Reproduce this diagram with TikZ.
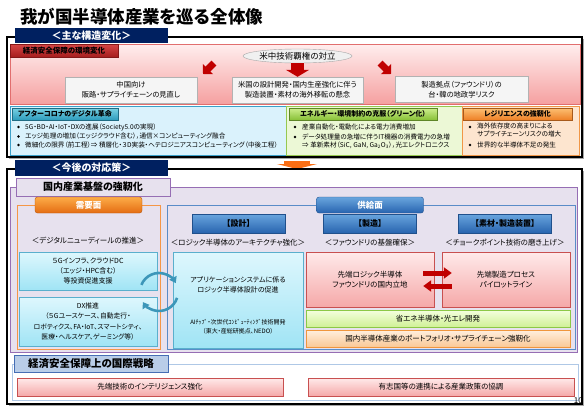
\documentclass[tikz,border=0pt]{standalone}
\usepackage{fontspec}
\setmainfont{Noto Sans CJK JP}[RawFeature=+palt]
\usetikzlibrary{arrows.meta,shapes.geometric,calc}

\definecolor{navy}{RGB}{0,32,96}
\definecolor{envtop}{RGB}{255,238,238}
\definecolor{envbot}{RGB}{245,160,160}
\definecolor{envline}{RGB}{225,110,110}
\definecolor{labtop}{RGB}{215,70,70}
\definecolor{labbot}{RGB}{165,30,30}
\definecolor{digfill}{RGB}{218,242,252}
\definecolor{digline}{RGB}{60,160,200}
\definecolor{digtop}{RGB}{120,210,228}
\definecolor{digbot}{RGB}{45,155,188}
\definecolor{grnfill}{RGB}{236,248,214}
\definecolor{grnline}{RGB}{150,200,80}
\definecolor{grntop}{RGB}{205,238,140}
\definecolor{grnbot}{RGB}{135,192,55}
\definecolor{orgfill}{RGB}{253,229,207}
\definecolor{orgline}{RGB}{240,150,70}
\definecolor{orgtop}{RGB}{252,192,115}
\definecolor{orgbot}{RGB}{238,128,38}
\definecolor{lav}{RGB}{231,225,238}
\definecolor{purp}{RGB}{150,110,180}
\definecolor{demline}{RGB}{245,150,70}
\definecolor{demtop}{RGB}{252,172,72}
\definecolor{dembot}{RGB}{228,108,18}
\definecolor{supline}{RGB}{90,140,200}
\definecolor{suptop}{RGB}{105,165,222}
\definecolor{supbot}{RGB}{40,100,175}
\definecolor{cytop}{RGB}{222,247,253}
\definecolor{cybot}{RGB}{160,228,245}
\definecolor{cyline}{RGB}{90,175,205}
\definecolor{pktop}{RGB}{255,234,234}
\definecolor{pkbot}{RGB}{245,168,168}
\definecolor{pkline}{RGB}{200,80,80}
\definecolor{gstop}{RGB}{244,255,222}
\definecolor{gsbot}{RGB}{208,240,150}
\definecolor{gsline}{RGB}{140,200,70}
\definecolor{ostop}{RGB}{255,239,222}
\definecolor{osbot}{RGB}{250,200,150}
\definecolor{osline}{RGB}{240,150,60}
\definecolor{intline}{RGB}{175,200,230}
\definecolor{intfill}{RGB}{185,205,232}
\definecolor{inttab}{RGB}{70,110,180}
\definecolor{darkred}{RGB}{192,0,0}
\definecolor{teal2}{RGB}{60,150,185}
\definecolor{orarrow}{RGB}{250,110,20}

\begin{document}
\begin{tikzpicture}[x=1pt,y=-1pt,inner sep=0pt]
\tikzstyle{every node}=[font=\fontsize{7}{10}\selectfont]
\tikzstyle{box}=[draw,rectangle,align=center]
\tikzstyle{navytab}=[box,draw=none,fill=navy,text=white,font=\bfseries\fontsize{10}{11}\selectfont,minimum width=153,minimum height=15]
\tikzstyle{graybox}=[box,draw=gray!60,fill=gray!8,minimum height=26,font=\fontsize{7.3}{10}\selectfont]
\tikzstyle{tabbox}=[box,minimum height=12,font=\bfseries\fontsize{7}{8}\selectfont]
\tikzstyle{item}=[anchor=west,font=\fontsize{6.6}{8.5}\selectfont,align=left]
\tikzstyle{pilltab}=[box,rounded corners=2.5,minimum width=107,minimum height=16,text=white,font=\bfseries\fontsize{8.5}{9}\selectfont]
\tikzstyle{hdr}=[box,draw=supbot!80!black,top color=suptop,bottom color=supbot,minimum width=93,minimum height=19,font=\bfseries\fontsize{8}{9}\selectfont]
\tikzstyle{sub}=[font=\fontsize{7.5}{8}\selectfont]
\tikzstyle{cyanbox}=[box,draw=cyline,top color=cytop,bottom color=cybot]
\tikzstyle{pinkbox}=[box,draw=pkline,top color=pktop,bottom color=pkbot,font=\fontsize{7.5}{10.5}\selectfont]
\tikzstyle{strip}=[box,minimum width=264,minimum height=17,font=\fontsize{7.5}{9}\selectfont]
\tikzstyle{fatred}=[line width=5,draw=darkred,-{Triangle[length=8pt,width=11pt]}]
\tikzstyle{cyc}=[line width=2.6,draw=teal2,-{Triangle[length=6pt,width=8pt]}]
\useasboundingbox (0,0) rectangle (588,408);

\node[anchor=west,font=\bfseries\fontsize{17.5}{20}\selectfont] (title) at (20,17) {我が国半導体産業を巡る全体像};

%upper frame
\fill[black!35] (9,39) rectangle (584,159);
\draw[fill=white,line width=1.1] (7,37) rectangle (582,157);
\node[navytab] (tab1) at (91.5,35.5) {＜主な構造変化＞};

\node[box,draw=envline,top color=envtop,bottom color=envbot,minimum width=570,minimum height=60] (env) at (295,74) {};
\node[box,draw=labbot!80!black,top color=labtop,bottom color=labbot,minimum width=108,minimum height=13,font=\bfseries\fontsize{7.5}{9}\selectfont] (envlab) at (64,50.5) {経済安全保障の環境変化};
\node[ellipse,draw=gray!70,fill=gray!12,minimum width=109,minimum height=14,font=\fontsize{8.5}{10}\selectfont] (conflict) at (297.5,56) {米中技術覇権の対立};
\node[graybox,minimum width=132] (china) at (131,90) {中国向け\\販路・サプライチェーンの見直し};
\node[graybox,minimum width=131] (us) at (297.5,90) {米国の設計開発・国内生産強化に伴う\\製造装置・素材の海外移転の懸念};
\node[graybox,minimum width=133] (geo) at (461.5,89.5) {製造拠点（ファウンドリ）の\\台・韓の地政学リスク};
\coordinate (la) at (214,63);
\coordinate (ma) at (297.5,63);
\coordinate (ra) at (380,63);
\draw[line width=7,draw=darkred,-{Triangle[length=7pt,width=14pt]}] (la) -- ++(-11,11);
\draw[line width=13,draw=darkred,-{Triangle[length=7pt,width=23pt]}] (ma) -- (ma |- us.north);
\draw[line width=7,draw=darkred,-{Triangle[length=7pt,width=14pt]}] (ra) -- ++(11,11);

\node[box,draw=digline,fill=digfill,minimum width=276,minimum height=49] (dig) at (148,130.5) {};
\node[tabbox,draw=digbot!70!black,top color=digtop,bottom color=digbot,minimum width=106] (diglab) at (65,114) {アフターコロナのデジタル革命};
\node[box,draw=grnline,fill=grnfill,minimum width=176,minimum height=49] (grn) at (374,130.5) {};
\node[tabbox,draw=grnbot!70!black,top color=grntop,bottom color=grnbot,minimum width=148] (grnlab) at (363,114) {エネルギー・環境制約の克服（グリーン化）};
\node[box,draw=orgline,fill=orgfill,minimum width=117,minimum height=49] (res) at (520.5,130.5) {};
\node[tabbox,draw=orgbot!70!black,top color=orgtop,bottom color=orgbot,minimum width=109] (reslab) at (517.5,114) {レジリエンスの強靭化};

\foreach \y in {127,136.5,145} \fill (18.5,\y) circle (1.3);
\node[item] (d1) at (25,127) {5G・BD・AI・IoT・DXの進展（Society5.0の実現）};
\node[item] (d2) at (25,136.5) {エッジ処理の増加（エッジクラウド含む），通信×コンピューティング融合};
\node[item] (d3) at (25,145) {微細化の限界（前工程）⇒ 積層化・３D実装・ヘテロジニアスコンピューティング（中後工程）};
\foreach \y in {127,137} \fill (295,\y) circle (1.3);
\node[item] (g1) at (302,127) {産業自動化・電動化による電力消費増加};
\node[item] (g2) at (302,137) {データ処理量の急増に伴うIT機器の消費電力の急増};
\node[item] (g3) at (302,145.5) {⇒ 革新素材（SiC, GaN, Ga\textsubscript{2}O\textsubscript{3}），光エレクトロニクス};
\foreach \y in {127,145} \fill (470,\y) circle (1.3);
\node[item,anchor=north west] (r1) at (477,122.5) {海外依存度の高まりによる\\サプライチェーンリスクの増大};
\node[item] (r2) at (477,145) {世界的な半導体不足の発生};

%lower frame
\draw[line width=26,draw=orarrow,-{Triangle[length=5pt,width=40pt]}] (297,160.5) -- (297,169);
\fill[black!35] (9,171) rectangle (584,406);
\draw[fill=white,line width=1.1] (7,169) rectangle (582,404);
\node[navytab,minimum height=16] (tab2) at (91.5,168) {＜今後の対応策＞};

\node[box,draw=purp,fill=lav,minimum width=567,minimum height=165] (dom) at (293.5,269.5) {};
\node[box,draw=purp,fill=lav,minimum width=154,minimum height=18,font=\bfseries\fontsize{10}{11}\selectfont] (domlab) at (93,187) {国内産業基盤の強靭化};

%demand
\node[box,draw=demline,minimum width=143,minimum height=144] (demand) at (88.5,277) {};
\node[pilltab,draw=dembot!80!black,top color=demtop,bottom color=dembot] (demlab) at (88.5,205) {需要面};
\node[sub] (dnd) at (88,241) {＜デジタルニューディールの推進＞};
\node[cyanbox,minimum width=138,minimum height=38] (infra) at (88,271) {５Gインフラ、クラウドDC\\（エッジ・HPC含む）\\等投資促進支援};
\node[cyanbox,minimum width=138,minimum height=49,font=\fontsize{6.8}{10.5}\selectfont] (dx) at (88,321.5) {DX推進\\（５Gユースケース、自動走行・\\ロボティクス、FA・IoT、スマートシティ、\\医療・ヘルスケア、ゲーミング等）};

%supply
\node[box,draw=supline,minimum width=408,minimum height=144] (supply) at (371,277) {};
\node[pilltab,draw=supbot!80!black,top color=suptop,bottom color=supbot] (suplab) at (370,205) {供給面};
\node[hdr] (h1) at (238.5,223.5) {【設計】};
\node[hdr] (h2) at (370,223.5) {【製造】};
\node[hdr] (h3) at (505,223.5) {【素材・製造装置】};
\node[sub] (s1) at (238,243) {＜ロジック半導体のアーキテクチャ強化＞};
\node[sub] (s2) at (370,243) {＜ファウンドリの基盤確保＞};
\node[sub] (s3) at (505,243) {＜チョークポイント技術の磨き上げ＞};

\node[cyanbox,minimum width=130,minimum height=96] (design) at (238,300) {};
\node[align=center] (des1) at (238,284.5) {アプリケーションシステムに係る\\ロジック半導体設計の促進};
\node[align=center,font=\fontsize{6}{9}\selectfont] (des2) at (238,326.5) {AIﾁｯﾌﾟ・次世代ｺﾝﾋﾟｭｰﾃｨﾝｸﾞ技術開発\\（東大・産総研拠点、NEDO）};
\node[pinkbox,minimum width=128,minimum height=55] (fab) at (370,279.5) {先端ロジック半導体\\ファウンドリの国内立地};
\node[pinkbox,minimum width=128,minimum height=55] (pilot) at (506,279.5) {先端製造プロセス\\パイロットライン};
\node[strip,draw=gsline,top color=gstop,bottom color=gsbot] (green) at (438,318.5) {省エネ半導体・光エレ開発};
\node[strip,draw=osline,top color=ostop,bottom color=osbot] (port) at (438,338.5) {国内半導体産業のポートフォリオ・サプライチェーン強靭化};

%arrows
\draw[fatred] ($(fab.east)+(-11,-6.5)$) -- ($(pilot.west)+(10,-6.5)$);
\draw[fatred] ($(pilot.west)+(10,6.5)$) -- ($(fab.east)+(-11,6.5)$);
\coordinate (cc) at (159,292);
\draw[cyc] (cc) ++(202:19) arc[start angle=202,end angle=332,radius=19];
\draw[cyc] (cc) ++(18:19) arc[start angle=18,end angle=148,radius=19];

%international
\node[box,draw=intline,fill=white,minimum width=566,minimum height=36] (intl) at (295,382) {};
\node[box,draw=inttab,fill=intfill,minimum width=154,minimum height=17,font=\bfseries\fontsize{10.5}{11}\selectfont] (intlab) at (91,363.5) {経済安全保障上の国際戦略};
\node[pinkbox,minimum width=266,minimum height=18] (intel) at (150,387) {先端技術のインテリジェンス強化};
\node[pinkbox,minimum width=266,minimum height=18] (coop) at (441,387) {有志国等の連携による産業政策の協調};
\node[anchor=south east,font=\fontsize{8}{9}\selectfont] (page) at (583,403.5) {10};
\end{tikzpicture}
\end{document}
